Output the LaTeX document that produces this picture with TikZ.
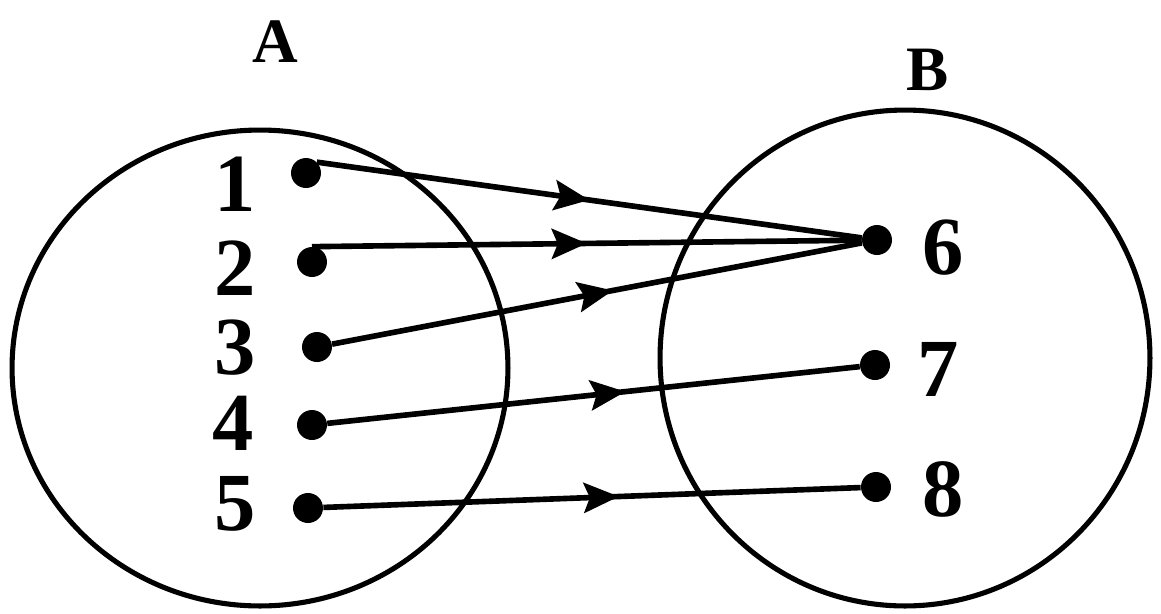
\documentclass[tikz,border=0pt]{standalone}
\usepackage{fontspec}
\setmainfont{Liberation Serif}
\usetikzlibrary{arrows.meta, decorations.markings}

\begin{document}
\begin{tikzpicture}[
    x=0.02cm, y=-0.02cm,
    dot/.style={circle, fill=black, inner sep=0pt, minimum size=0.6cm},
    num/.style={font=\fontsize{47}{47}\selectfont\bfseries, inner sep=0pt},
    setname/.style={font=\fontsize{36}{36}\selectfont\bfseries, inner sep=0pt},
    arr/.style={line width=3.2pt, decoration={markings, mark=at position #1 with {\arrow{Stealth[length=7mm, width=6mm, inset=1.2mm]}}}, postaction={decorate}},
    ring/.style={line width=2.9pt}
]
\useasboundingbox (0,0) rectangle (1161,613);
% the two sets
\draw[ring] (260,368) ellipse [x radius=4.96cm, y radius=4.76cm];
\draw[ring] (905,358) ellipse [x radius=4.9cm, y radius=4.96cm];
\node[setname] (nameA) at (275,42) {A};
\node[setname] (nameB) at (928,70) {B};
% elements of A
\node[dot] (p1) at (306,173) {};
\node[dot] (p2) at (312,262) {};
\node[dot] (p3) at (317,347) {};
\node[dot] (p4) at (312,425) {};
\node[dot] (p5) at (308,508) {};
\node[num] (l1) at (235,184) {1};
\node[num] (l2) at (235,268) {2};
\node[num] (l3) at (235,348) {3};
\node[num] (l4) at (233,423) {4};
\node[num] (l5) at (235,504) {5};
% elements of B
\node[dot] (q6) at (877,240) {};
\node[dot] (q7) at (875,365) {};
\node[dot] (q8) at (876,487) {};
\node[num] (l6) at (943,248) {6};
\node[num] (l7) at (938,369) {7};
\node[num] (l8) at (943,489) {8};
% the mapping
\draw[arr=0.5] (p1.north east) -- (q6);
\draw[arr=0.5] (p2.north) -- (q6);
\draw[arr=0.53] (p3) -- (q6);
\draw[arr=0.56] (p4) -- (q7);
\draw[arr=0.55] (p5) -- (q8);
\end{tikzpicture}
\end{document}
